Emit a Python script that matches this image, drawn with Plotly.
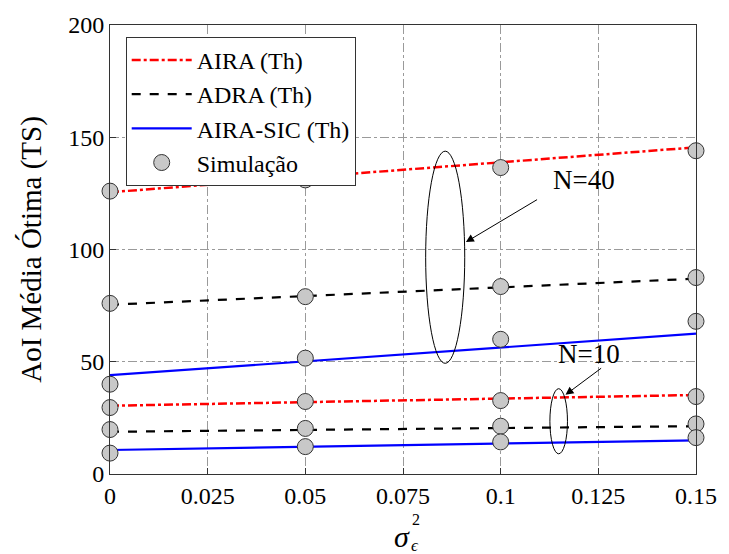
import plotly.graph_objects as go

x = [0, 0.05, 0.1, 0.15]

# Theory curves (Th)
aira40_th = [125.5, 132.2, 138.8, 145.5]
adra40_th = [75.4, 79.2, 83.1, 87.0]
sic40_th = [44.0, 50.2, 56.4, 62.5]
aira10_th = [30.4, 32.0, 33.6, 35.2]
adra10_th = [18.8, 19.6, 20.4, 21.3]
sic10_th = [10.7, 12.1, 13.6, 15.0]

# Simulation points
aira40_sim = [126.0, 131.0, 136.5, 144.0]
adra40_sim = [76.0, 79.0, 83.5, 87.5]
sic40_sim = [40.0, 51.6, 60.0, 68.0]
aira10_sim = [29.6, 32.3, 32.7, 34.5]
adra10_sim = [19.8, 20.3, 21.3, 22.3]
sic10_sim = [9.3, 12.2, 14.3, 16.2]

x_ticks = [0, 0.025, 0.05, 0.075, 0.1, 0.125, 0.15]
x_ticklabels = ["0", "0.025", "0.05", "0.075", "0.1", "0.125", "0.15"]
y_ticks = [0, 50, 100, 150, 200]

FONT = "Liberation Serif"

L, R, T, B = 110, 22, 18, 80
W, H = 729, 554
PW, PH = W - L - R, H - T - B


def px2paper(px, py):
    return (px - L) / PW, (H - B - py) / PH


fig = go.Figure()

th_styles = [
    ("AIRA (Th)", "red", "dashdot", 2.5, aira40_th, aira10_th),
    ("ADRA (Th)", "black", "dash", 2.2, adra40_th, adra10_th),
    ("AIRA-SIC (Th)", "blue", "solid", 2.2, sic40_th, sic10_th),
]
for name, col, dash, w, y40, y10 in th_styles:
    fig.add_trace(go.Scatter(x=x, y=y40, mode="lines", name=name,
                             line=dict(color=col, dash=dash, width=w)))
    fig.add_trace(go.Scatter(x=x, y=y10, mode="lines", name=name, showlegend=False,
                             line=dict(color=col, dash=dash, width=w)))

sims = [aira40_sim, adra40_sim, sic40_sim, aira10_sim, adra10_sim, sic10_sim]
for i, ys in enumerate(sims):
    fig.add_trace(go.Scatter(x=x, y=ys, mode="markers", name="Simulação",
                             showlegend=(i == 0), cliponaxis=False,
                             marker=dict(size=16, color="#c8c8c8",
                                         line=dict(color="#333333", width=1))))

# Ellipses
fig.add_shape(type="circle", xref="x", yref="y", x0=0.0808, x1=0.0908, y0=49.3, y1=143.8,
              line=dict(color="black", width=1))
fig.add_shape(type="circle", xref="x", yref="y", x0=0.1126, x1=0.1171, y0=9.0, y1=38.0,
              line=dict(color="black", width=1))

# Arrows and labels
fig.add_annotation(x=0.0911, y=103.3, ax=0.1097, ay=122.6, xref="x", yref="y",
                   axref="x", ayref="y", showarrow=True, arrowhead=2, arrowsize=1.6,
                   arrowwidth=1, arrowcolor="black", text="")
fig.add_annotation(x=0.1213, y=131, xref="x", yref="y", text="N=40", showarrow=False,
                   font=dict(family=FONT, size=27, color="black"))
fig.add_annotation(x=0.1166, y=35.3, ax=0.1261, ay=47.6, xref="x", yref="y",
                   axref="x", ayref="y", showarrow=True, arrowhead=2, arrowsize=1.6,
                   arrowwidth=1, arrowcolor="black", text="")
fig.add_annotation(x=0.1226, y=53.3, xref="x", yref="y", text="N=10", showarrow=False,
                   font=dict(family=FONT, size=27, color="black"))

# x-axis title: sigma_epsilon^2
sx, sy = px2paper(407, 537)
fig.add_annotation(x=sx, y=sy, xref="paper", yref="paper", text="<i>σ</i>",
                   showarrow=False, xanchor="center", yanchor="middle",
                   font=dict(family=FONT, size=30, color="black"))
sx, sy = px2paper(422, 520)
fig.add_annotation(x=sx, y=sy, xref="paper", yref="paper", text="2",
                   showarrow=False, xanchor="center", yanchor="middle",
                   font=dict(family=FONT, size=16, color="black"))
sx, sy = px2paper(421, 547)
fig.add_annotation(x=sx, y=sy, xref="paper", yref="paper", text="<i>ϵ</i>",
                   showarrow=False, xanchor="center", yanchor="middle",
                   font=dict(family=FONT, size=17, color="black"))

axis_common = dict(showline=True, linecolor="#333333", linewidth=1, mirror=True,
                   ticks="inside", ticklen=6, tickcolor="#333333",
                   showgrid=True, gridcolor="#9a9a9a", gridwidth=1, griddash="dashdot",
                   zeroline=False, tickfont=dict(family=FONT, size=24, color="black"))

fig.update_xaxes(range=[0, 0.15], tickvals=x_ticks, ticktext=x_ticklabels, **axis_common)
fig.update_yaxes(range=[0, 200], tickvals=y_ticks, **axis_common,
                 title=dict(text="AoI Média Ótima (TS)", standoff=18,
                            font=dict(family=FONT, size=29, color="black")))

lx, ly = px2paper(126, 30)
fig.update_layout(
    width=W, height=H,
    margin=dict(l=L, r=R, t=T, b=B),
    plot_bgcolor="white", paper_bgcolor="white",
    font=dict(family=FONT, size=24, color="black"),
    legend=dict(x=lx, y=ly, xanchor="left", yanchor="top",
                bgcolor="white", bordercolor="#333333", borderwidth=1,
                font=dict(family=FONT, size=24, color="black"),
                tracegroupgap=0, itemwidth=60),
    showlegend=True,
)

fig.write_html("out.html")
